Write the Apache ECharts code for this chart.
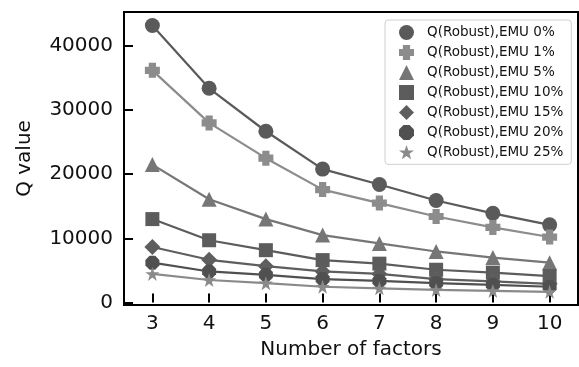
<!DOCTYPE html>
<html>
<head>
<meta charset="utf-8">
<script src="https://cdn.jsdelivr.net/npm/echarts@6/dist/echarts.min.js"></script>
<style>html,body{margin:0;padding:0;background:#fff}#c{width:579px;height:367px}</style>
</head>
<body>
<div id="c"></div>
<script>
const factors = [3, 4, 5, 6, 7, 8, 9, 10];
const seriesNames = ['Q(Robust),EMU 0%', 'Q(Robust),EMU 1%', 'Q(Robust),EMU 5%', 'Q(Robust),EMU 10%', 'Q(Robust),EMU 15%', 'Q(Robust),EMU 20%', 'Q(Robust),EMU 25%'];
const emu0  = [43200, 33400, 26700, 20800, 18400, 15900, 13900, 12100];
const emu1  = [36200, 28000, 22500, 17600, 15500, 13400, 11700, 10200];
const emu5  = [21500, 16100, 13000, 10500, 9200, 7950, 7000, 6200];
const emu10 = [13000, 9700, 8150, 6600, 6050, 5100, 4650, 4100];
const emu15 = [8650, 6650, 5650, 4830, 4450, 3650, 3300, 2900];
const emu20 = [6200, 4830, 4300, 3650, 3350, 3000, 2750, 2450];
const emu25 = [4450, 3500, 3000, 2450, 2200, 1950, 1800, 1650];
const yTicks = [0, 10000, 20000, 30000, 40000];
const xTicks = [3, 4, 5, 6, 7, 8, 9, 10];

const allValues = [emu0, emu1, emu5, emu10, emu15, emu20, emu25];
const colors = ['#5a5a5a', '#8c8c8c', '#767676', '#5c5c5c', '#5e5e5e', '#505050', '#8a8a8a'];
const PLUS = 'path://M2.6,0H7.4V2.6H10V7.4H7.4V10H2.6V7.4H0V2.6H2.6Z';
const OCT = 'path://M3,0H7L10,3V7L7,10H3L0,7V3Z';
const STAR = 'path://M50,0L61.8,35.1L98.1,35.1L68.8,56.8L79.9,91.9L50,70.2L20.1,91.9L31.2,56.8L1.9,35.1L38.2,35.1Z';
const symbols = ['circle', PLUS, 'triangle', 'rect', 'diamond', OCT, STAR];
const sizes = [15, 15, 15, 14, 16, 14, 14];

const font = 'DejaVu Sans';
const chart = echarts.init(document.getElementById('c'), null, {renderer: 'canvas'});
chart.setOption({
  animation: false,
  backgroundColor: '#fff',
  textStyle: {fontFamily: font},
  grid: {left: 124, right: 1, top: 12, bottom: 62, show: true, borderColor: '#000', borderWidth: 2, backgroundColor: 'transparent'},
  legend: {
    orient: 'vertical', left: 385, top: 20,
    padding: [5, 8, 5, 14],
    itemWidth: 15, itemHeight: 15, itemGap: 5, symbolKeepAspect: true,
    backgroundColor: '#fff', borderColor: '#cfcfcf', borderWidth: 1, borderRadius: 3,
    textStyle: {fontFamily: font, fontSize: 13.5, color: '#111', padding: [0, 0, 0, 8]},
    data: seriesNames.map((n, i) => ({name: n, icon: symbols[i], itemStyle: {color: colors[i]}}))
  },
  xAxis: {
    type: 'value', min: 2.5, max: 10.5,
    name: 'Number of factors', nameLocation: 'middle', nameGap: 35,
    nameTextStyle: {fontFamily: font, fontSize: 20, color: '#111'},
    axisLine: {show: false},
    axisTick: {show: true, inside: true, length: 9, lineStyle: {color: '#000', width: 2}, customValues: xTicks},
    axisLabel: {fontFamily: font, fontSize: 20, color: '#111', margin: 9, customValues: xTicks},
    splitLine: {show: false}
  },
  yAxis: {
    type: 'value', min: -400, max: 45300,
    name: 'Q value', nameLocation: 'middle', nameGap: 89, nameRotate: 90,
    nameTextStyle: {fontFamily: font, fontSize: 20, color: '#111'},
    axisLine: {show: false},
    axisTick: {show: true, inside: true, length: 9, lineStyle: {color: '#000', width: 2}, customValues: yTicks},
    axisLabel: {fontFamily: font, fontSize: 20, color: '#111', margin: 11, customValues: yTicks, formatter: v => String(v)},
    splitLine: {show: false}
  },
  series: seriesNames.map((n, i) => ({
    name: n, type: 'line',
    data: factors.map((f, j) => [f, allValues[i][j]]),
    symbol: symbols[i], symbolSize: sizes[i], showAllSymbol: true,
    itemStyle: {color: colors[i], opacity: 1},
    lineStyle: {color: colors[i], width: 2.2},
    z: 2 + i
  }))
});
</script>
</body>
</html>
